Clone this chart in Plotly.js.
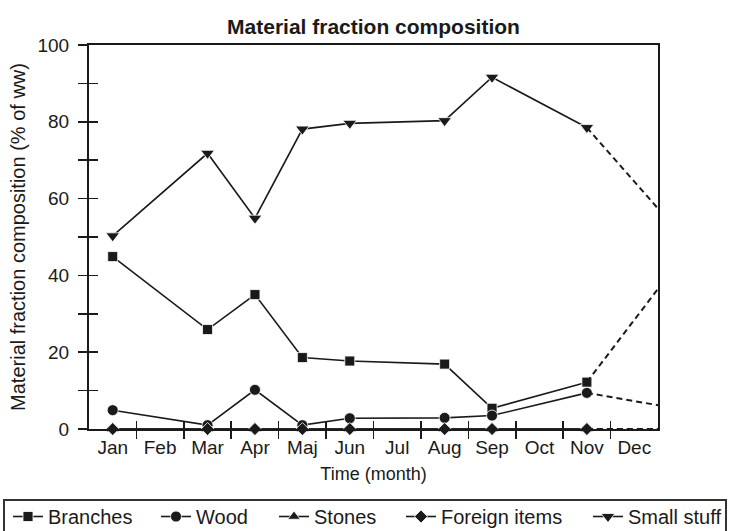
<!DOCTYPE html>
<html>
<head>
<meta charset="utf-8">
<script src="https://cdn.plot.ly/plotly-3.0.1.min.js"></script>
<style>html,body{margin:0;padding:0;background:#fff;}#chart{width:730px;height:531px;}</style>
</head>
<body>
<div id="chart"></div>
<script>
// ---- data ----
const months = ['Jan','Feb','Mar','Apr','Maj','Jun','Jul','Aug','Sep','Oct','Nov','Dec'];
const sampleMonths = ['Jan','Mar','Apr','Maj','Jun','Aug','Sep','Nov'];
const branches = [44.9, 25.9, 35.0, 18.6, 17.7, 16.9, 5.4, 12.2];
const wood     = [4.9, 1.0, 10.2, 1.0, 2.8, 2.9, 3.5, 9.4];
const stones   = [0, 0, 0, 0, 0, 0, 0, 0];
const foreign  = [0, 0, 0, 0, 0, 0, 0, 0];
const small    = [50.3, 71.8, 54.9, 78.1, 79.6, 80.3, 91.6, 78.5];
// projected values at the end of the year (dashed)
const branchesEnd = 36.5;
const woodEnd = 6.2;
const stonesEnd = 0;
const foreignEnd = 0;
const smallEnd = 57.4;
const yTickVals = [0,10,20,30,40,50,60,70,80,90,100];
const yTickText = ['0','','20','','40','','60','','80','','100'];

// ---- positions derived from the month list ----
const pos = sampleMonths.map(m => months.indexOf(m) + 1);
const monthPos = months.map((m, i) => i + 1);
const boundaries = months.slice(1).map((m, i) => i + 1.5);
const lastPos = pos[pos.length - 1];
const yearEnd = months.length + 0.5;

const ink = '#1a1a1a';
const FONT = 'Liberation Sans, Arial, sans-serif';
const FS = 19;
const W = 730, H = 531;

// legend entry left edges (px) – one small legend per series, framed by a single box
const legendLeft = [8, 156, 274, 401, 588];
const legendTopPx = 497;

const series = [
  {name: 'Branches', y: branches, end: branchesEnd, symbol: 'square', size: 10},
  {name: 'Wood', y: wood, end: woodEnd, symbol: 'circle', size: 11},
  {name: 'Stones', y: stones, end: stonesEnd, symbol: 'triangle-up', size: 11},
  {name: 'Foreign items', y: foreign, end: foreignEnd, symbol: 'diamond', size: 10},
  {name: 'Small stuff', y: small, end: smallEnd, symbol: 'triangle-down', size: 12}
];

const traces = [];
// dashed projections live on the overlay axes (which carry the inner half of the crossing ticks)
series.forEach(s => {
  traces.push({
    x: [lastPos, yearEnd], y: [s.y[s.y.length - 1], s.end],
    xaxis: 'x2', yaxis: 'y2',
    mode: 'lines', line: {color: ink, width: 2, dash: '6px,4px'},
    showlegend: false, hoverinfo: 'skip'
  });
});
series.forEach((s, i) => {
  traces.push({
    x: pos, y: s.y, name: s.name, mode: 'lines+markers',
    legend: i === 0 ? 'legend' : 'legend' + (i + 1),
    line: {color: ink, width: 1.6},
    marker: {symbol: s.symbol, size: s.size, color: ink, line: {color: '#fff', width: 0.8}},
    cliponaxis: false
  });
});

const layout = {
  width: W, height: H,
  margin: {l: 89, r: 72, t: 45, b: 102},
  paper_bgcolor: '#fff', plot_bgcolor: '#fff',
  font: {family: FONT, color: ink, size: FS},
  title: {text: '<b>Material fraction composition</b>', font: {family: FONT, size: 21, color: ink},
          x: 0.5, xanchor: 'center', xref: 'paper', y: 1, yref: 'container', yanchor: 'top', pad: {t: 19}},
  xaxis: {
    range: [0.5, yearEnd], tickvals: monthPos, ticktext: months, ticks: '',
    minor: {tickvals: boundaries, ticks: 'outside', ticklen: 8, tickwidth: 1.6, tickcolor: ink, showgrid: false},
    showline: true, linecolor: ink, linewidth: 2, mirror: true,
    showgrid: false, zeroline: false, tickfont: {size: FS}
  },
  xaxis2: {
    overlaying: 'x', anchor: 'y2', range: [0.5, yearEnd], tickvals: boundaries,
    ticks: 'inside', ticklen: 8, tickwidth: 1.6, tickcolor: ink,
    showticklabels: false, showline: false, showgrid: false, zeroline: false,
    title: {text: 'Time (month)', font: {size: 18}, standoff: 38}
  },
  yaxis: {
    range: [0, 100], tickvals: yTickVals, ticktext: yTickText,
    ticks: 'outside', ticklen: 9, tickwidth: 1.6, tickcolor: ink,
    showline: true, linecolor: ink, linewidth: 2, mirror: true,
    showgrid: false, zeroline: false, tickfont: {size: FS}, ticklabelstandoff: 5,
    title: {text: 'Material fraction composition (% of ww)', font: {size: 20}, standoff: 6}
  },
  yaxis2: {
    overlaying: 'y', anchor: 'x2', range: [0, 100], tickvals: yTickVals,
    ticks: 'inside', ticklen: 9, tickwidth: 1.6, tickcolor: ink,
    showticklabels: false, showline: false, showgrid: false, zeroline: false
  },
  shapes: [{
    type: 'rect', xref: 'paper', yref: 'paper', layer: 'above',
    x0: (4 - 89) / 569, x1: (726 - 89) / 569,
    y0: (429 - 500) / 384, y1: (429 - 545) / 384,
    line: {color: '#333', width: 2}, fillcolor: 'rgba(0,0,0,0)'
  }],
  showlegend: true
};

legendLeft.forEach((px, i) => {
  layout[i === 0 ? 'legend' : 'legend' + (i + 1)] = {
    orientation: 'h', x: px / W, xanchor: 'left', xref: 'container',
    y: 1 - legendTopPx / H, yref: 'container', yanchor: 'top',
    borderwidth: 0, bgcolor: 'rgba(0,0,0,0)',
    font: {size: 20, color: ink}, itemwidth: 30
  };
});

Plotly.newPlot('chart', traces, layout, {staticPlot: true});
</script>
</body>
</html>
